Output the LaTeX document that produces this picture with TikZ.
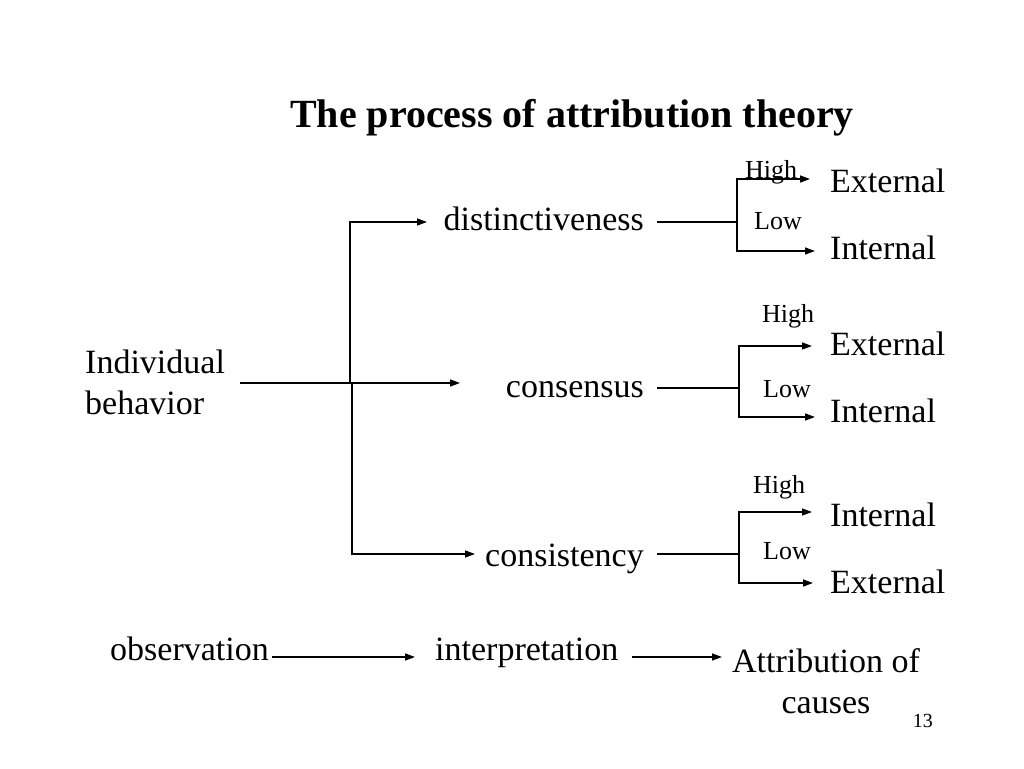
\documentclass[tikz,border=0pt]{standalone}
\usepackage{fontspec}
\setmainfont{Liberation Serif}
\usetikzlibrary{arrows.meta}
\definecolor{inkblack}{RGB}{0,0,0}

\begin{document}
\begin{tikzpicture}[x=1pt, y=-1pt,
    arr/.style={draw=inkblack, line width=1.4pt, -{Triangle[length=10pt,width=7pt]}},
    ln/.style={draw=inkblack, line width=1.4pt},
    body/.style={font=\fontsize{34}{41}\selectfont, inner sep=0pt, anchor=base west},
    small/.style={font=\fontsize{26}{30}\selectfont, inner sep=0pt, anchor=base west}]
    \useasboundingbox[fill=white] (0,0) rectangle (1024,768);

    % Title
    \node[font=\fontsize{40}{46}\selectfont\bfseries, inner sep=0pt, anchor=base] (title) at (572,127) {The process of attribution theory};

    % Individual behavior
    \node[body, align=left, anchor=north west] (ib) at (85,350) {Individual\\behavior};

    % Criteria
    \node[body, anchor=base east] (dist) at (644,230) {distinctiveness};
    \node[body, anchor=base east] (cons) at (644,397) {consensus};
    \node[body, anchor=base east] (cnst) at (644,566) {consistency};

    % Fork from individual behavior
    \coordinate (ibR) at (240,383);
    \coordinate (forkUp) at (350,383);
    \coordinate (forkDn) at (352,383);
    \coordinate (distL) at (427,222);
    \coordinate (consL) at (460,383);
    \coordinate (cnstL) at (475,554);
    \draw[arr] (ibR) -- (consL);
    \draw[arr] (forkUp) |- (distL);
    \draw[arr] (forkDn) |- (cnstL);

    % Distinctiveness branch
    \coordinate (distR) at (657,222);
    \coordinate (distJ) at (737,222);
    \coordinate (distHi) at (810,179);
    \coordinate (distLo) at (815,251);
    \draw[ln] (distR) -- (distJ);
    \draw[arr] (distJ) |- (distHi);
    \draw[arr] (distJ) |- (distLo);
    \node[small] (distHiL) at (745,178) {High};
    \node[small] (distLoL) at (754,229) {Low};
    \node[body] (distExt) at (830,192) {External};
    \node[body] (distInt) at (830,259) {Internal};

    % Consensus branch
    \coordinate (consR) at (657,388);
    \coordinate (consJ) at (739,388);
    \coordinate (consHi) at (812,346);
    \coordinate (consLo) at (815,417);
    \draw[ln] (consR) -- (consJ);
    \draw[arr] (consJ) |- (consHi);
    \draw[arr] (consJ) |- (consLo);
    \node[small] (consHiL) at (762,322) {High};
    \node[small] (consLoL) at (763,397) {Low};
    \node[body] (consExt) at (830,355) {External};
    \node[body] (consInt) at (830,422) {Internal};

    % Consistency branch
    \coordinate (cnstR) at (657,554);
    \coordinate (cnstJ) at (739,554);
    \coordinate (cnstHi) at (812,512);
    \coordinate (cnstLo) at (813,583);
    \draw[ln] (cnstR) -- (cnstJ);
    \draw[arr] (cnstJ) |- (cnstHi);
    \draw[arr] (cnstJ) |- (cnstLo);
    \node[small] (cnstHiL) at (753,493) {High};
    \node[small] (cnstLoL) at (763,559) {Low};
    \node[body] (cnstInt) at (830,526) {Internal};
    \node[body] (cnstExt) at (830,593) {External};

    % Bottom row
    \node[body] (obs) at (110,660) {observation};
    \node[body] (intp) at (435,660) {interpretation};
    \node[body, align=center, anchor=north] (attr) at (826,648) {Attribution of\\causes};
    \coordinate (obsR) at (272,657);
    \coordinate (intpL) at (415,657);
    \coordinate (intpR) at (632,657);
    \coordinate (attrL) at (722,657);
    \draw[arr] (obsR) -- (intpL);
    \draw[arr] (intpR) -- (attrL);

    % Page number
    \node[font=\fontsize{20}{24}\selectfont, inner sep=0pt, anchor=base east] (pg) at (933,727) {13};
\end{tikzpicture}
\end{document}
